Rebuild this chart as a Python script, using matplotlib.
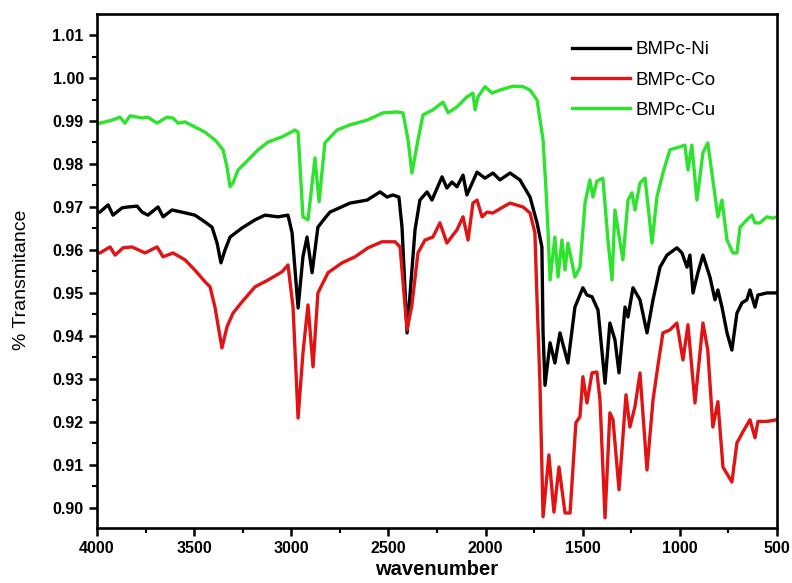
import matplotlib.pyplot as plt
from matplotlib.ticker import MultipleLocator, FormatStrFormatter

plt.rcParams['font.family'] = ['Liberation Sans', 'DejaVu Sans']

# FTIR spectra (wavenumber, transmittance)
wn_ni = [4000, 3985, 3943, 3918, 3871, 3840, 3794, 3768, 3738, 3686, 3660, 3614, 3563,
         3496, 3444, 3408, 3382, 3362, 3341, 3315, 3254, 3187, 3135, 3068, 3017, 2996,
         2965, 2940, 2919, 2893, 2863, 2827, 2801, 2698, 2610, 2543, 2507, 2477, 2446,
         2430, 2404, 2363, 2338, 2301, 2276, 2224, 2199, 2173, 2147, 2116, 2096, 2044,
         2003, 1962, 1926, 1874, 1823, 1771, 1735, 1710, 1704, 1694, 1668, 1643, 1617,
         1576, 1540, 1499, 1478, 1452, 1421, 1385, 1360, 1334, 1313, 1282, 1267, 1241,
         1205, 1169, 1138, 1102, 1066, 1015, 989, 963, 948, 932, 907, 881, 845, 819, 804,
         783, 757, 732, 706, 680, 655, 639, 613, 598, 552, 500]
t_ni = [0.9688, 0.9688, 0.9705, 0.9681, 0.9698, 0.9700, 0.9702, 0.9688, 0.9681, 0.9700,
        0.9677, 0.9693, 0.9688, 0.9681, 0.9665, 0.9653, 0.9616, 0.9570, 0.9600, 0.9630,
        0.9651, 0.9670, 0.9681, 0.9677, 0.9681, 0.9640, 0.9465, 0.9584, 0.9630, 0.9547,
        0.9653, 0.9674, 0.9688, 0.9709, 0.9716, 0.9735, 0.9723, 0.9728, 0.9723, 0.9653,
        0.9407, 0.9647, 0.9716, 0.9735, 0.9716, 0.9770, 0.9744, 0.9758, 0.9747, 0.9774,
        0.9728, 0.9781, 0.9767, 0.9779, 0.9763, 0.9779, 0.9763, 0.9723, 0.9663, 0.9607,
        0.9407, 0.9285, 0.9384, 0.9337, 0.9407, 0.9337, 0.9467, 0.9512, 0.9495, 0.9491,
        0.9460, 0.9290, 0.9430, 0.9391, 0.9314, 0.9467, 0.9444, 0.9512, 0.9484, 0.9407,
        0.9484, 0.9560, 0.9588, 0.9605, 0.9593, 0.9560, 0.9588, 0.9500, 0.9547, 0.9588,
        0.9537, 0.9484, 0.9507, 0.9467, 0.9407, 0.9367, 0.9453, 0.9477, 0.9484, 0.9507,
        0.9467, 0.9495, 0.9500, 0.9500]

wn_co = [4000, 3985, 3933, 3907, 3866, 3820, 3753, 3691, 3660, 3609, 3547, 3496, 3444,
         3418, 3393, 3357, 3331, 3300, 3254, 3187, 3120, 3048, 3017, 2991, 2965, 2940,
         2914, 2888, 2863, 2811, 2739, 2672, 2605, 2533, 2466, 2440, 2404, 2379, 2348,
         2312, 2271, 2235, 2199, 2147, 2116, 2090, 2065, 2044, 2018, 1993, 1962, 1910,
         1874, 1807, 1771, 1746, 1735, 1720, 1704, 1674, 1648, 1622, 1591, 1565, 1535,
         1514, 1499, 1478, 1452, 1427, 1411, 1385, 1360, 1344, 1313, 1277, 1257, 1231,
         1205, 1169, 1138, 1112, 1087, 1051, 1015, 984, 958, 922, 881, 856, 830, 804, 778,
         732, 706, 675, 639, 613, 598, 552, 500]
t_co = [0.9593, 0.9593, 0.9607, 0.9588, 0.9605, 0.9607, 0.9593, 0.9607, 0.9584, 0.9593,
        0.9577, 0.9553, 0.9526, 0.9514, 0.9467, 0.9372, 0.9421, 0.9453, 0.9479, 0.9514,
        0.9530, 0.9549, 0.9565, 0.9467, 0.9209, 0.9360, 0.9472, 0.9328, 0.9500, 0.9547,
        0.9570, 0.9584, 0.9605, 0.9619, 0.9619, 0.9607, 0.9414, 0.9472, 0.9593, 0.9623,
        0.9630, 0.9663, 0.9616, 0.9647, 0.9677, 0.9623, 0.9709, 0.9716, 0.9677, 0.9688,
        0.9686, 0.9700, 0.9709, 0.9700, 0.9686, 0.9640, 0.9484, 0.9291, 0.8979, 0.9123,
        0.8990, 0.9095, 0.8988, 0.8988, 0.9198, 0.9212, 0.9305, 0.9244, 0.9314, 0.9316,
        0.9251, 0.8977, 0.9221, 0.9205, 0.9042, 0.9263, 0.9188, 0.9235, 0.9314, 0.9088,
        0.9251, 0.9333, 0.9407, 0.9414, 0.9430, 0.9344, 0.9426, 0.9244, 0.9430, 0.9367,
        0.9188, 0.9247, 0.9095, 0.9060, 0.9151, 0.9177, 0.9205, 0.9163, 0.9201, 0.9201,
        0.9205]

wn_cu = [4000, 3985, 3923, 3882, 3856, 3830, 3768, 3738, 3691, 3640, 3609, 3583, 3547,
         3496, 3444, 3393, 3351, 3331, 3315, 3300, 3274, 3223, 3171, 3120, 3048, 2981,
         2965, 2940, 2914, 2878, 2857, 2827, 2765, 2698, 2610, 2528, 2456, 2425, 2399,
         2379, 2348, 2322, 2271, 2219, 2193, 2147, 2096, 2065, 2054, 2039, 2003, 1967,
         1926, 1859, 1807, 1771, 1735, 1704, 1690, 1679, 1668, 1643, 1627, 1607, 1591,
         1576, 1540, 1514, 1488, 1463, 1447, 1427, 1396, 1370, 1349, 1334, 1318, 1293,
         1267, 1246, 1231, 1205, 1179, 1143, 1118, 1087, 1051, 999, 974, 958, 938, 912,
         881, 856, 830, 804, 783, 757, 727, 706, 690, 655, 629, 613, 588, 552, 521, 500]
t_cu = [0.9893, 0.9895, 0.9902, 0.9909, 0.9895, 0.9912, 0.9907, 0.9909, 0.9895, 0.9909,
        0.9907, 0.9895, 0.9898, 0.9886, 0.9874, 0.9856, 0.9833, 0.9793, 0.9747, 0.9756,
        0.9786, 0.9809, 0.9833, 0.9851, 0.9863, 0.9879, 0.9874, 0.9677, 0.9670, 0.9814,
        0.9712, 0.9849, 0.9879, 0.9891, 0.9902, 0.9919, 0.9921, 0.9919, 0.9856, 0.9779,
        0.9856, 0.9914, 0.9926, 0.9944, 0.9919, 0.9933, 0.9956, 0.9965, 0.9926, 0.9956,
        0.9980, 0.9965, 0.9972, 0.9981, 0.9980, 0.9972, 0.9949, 0.9856, 0.9750, 0.9650,
        0.9530, 0.9630, 0.9537, 0.9623, 0.9553, 0.9616, 0.9537, 0.9560, 0.9709, 0.9763,
        0.9723, 0.9760, 0.9767, 0.9623, 0.9530, 0.9693, 0.9647, 0.9577, 0.9716, 0.9733,
        0.9693, 0.9756, 0.9767, 0.9616, 0.9723, 0.9779, 0.9833, 0.9840, 0.9844, 0.9786,
        0.9844, 0.9716, 0.9826, 0.9849, 0.9763, 0.9677, 0.9716, 0.9623, 0.9593, 0.9593,
        0.9653, 0.9670, 0.9681, 0.9663, 0.9663, 0.9677, 0.9674, 0.9677]

fig = plt.figure(figsize=(7.92, 5.83), dpi=100)
ax = fig.add_axes([0.1225, 0.0943, 0.8585, 0.8817])

ax.plot(wn_ni, t_ni, color='black', linewidth=2.4, label='BMPc-Ni')
ax.plot(wn_co, t_co, color='#e01414', linewidth=2.4, label='BMPc-Co')
ax.plot(wn_cu, t_cu, color='#2ee32e', linewidth=2.4, label='BMPc-Cu')

ax.set_xlim(4000, 500)
ax.set_ylim(0.8953, 1.0149)

ax.xaxis.set_major_locator(MultipleLocator(500))
ax.xaxis.set_minor_locator(MultipleLocator(250))
ax.yaxis.set_major_locator(MultipleLocator(0.01))
ax.yaxis.set_minor_locator(MultipleLocator(0.005))
ax.yaxis.set_major_formatter(FormatStrFormatter('%.2f'))

ax.tick_params(which='major', direction='out', length=6, width=1.8,
               labelsize=11.5, top=False, right=False)
ax.tick_params(which='minor', direction='out', length=3.5, width=1.5,
               top=False, right=False)
for lab in ax.get_xticklabels() + ax.get_yticklabels():
    lab.set_fontweight('bold')

for sp in ax.spines.values():
    sp.set_linewidth(1.9)

ax.set_xlabel('wavenumber', fontsize=14.5, fontweight='bold')
ax.set_ylabel('% Transmitance', fontsize=14)
ax.xaxis.set_label_coords(0.5, -0.062)
ax.yaxis.set_label_coords(-0.098, 0.4825)

ax.legend(loc='upper left', frameon=False, fontsize=13.5, handlelength=3.1,
          handletextpad=0.27, labelspacing=0.7, bbox_to_anchor=(0.6735, 0.980))

fig.savefig('out.png', dpi=100, facecolor='white')
